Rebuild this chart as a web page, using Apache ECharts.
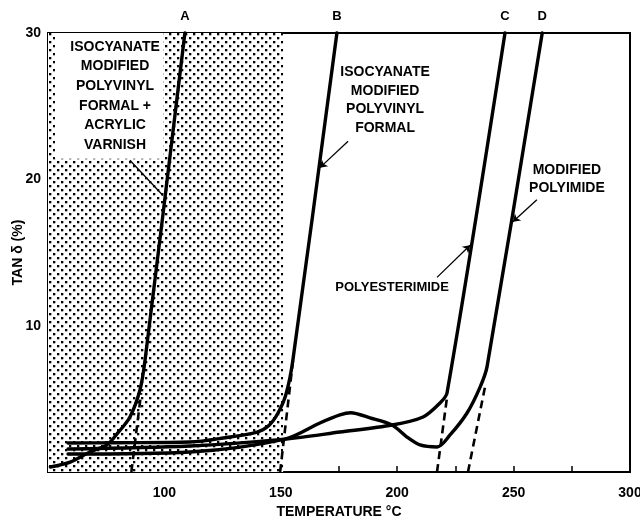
<!DOCTYPE html>
<html>
<head>
<meta charset="utf-8">
<script src="https://cdn.jsdelivr.net/npm/echarts@6/dist/echarts.min.js"></script>
<style>
html,body{margin:0;padding:0;background:#fff;}
#chart{width:640px;height:522px;}
</style>
</head>
<body>
<div id="chart"></div>
<script>
// ---- Data ----
const tempA = [51, 59.5, 68, 75.3, 80, 85.2, 89.5, 91.7, 108.8];
const tanA  = [0.34, 0.68, 1.37, 1.85, 2.67, 3.76, 5.6, 7.66, 30];

const tempB = [58.6, 80, 111, 125.2, 139.8, 145, 148.8, 152.2, 155.2, 174.1];
const tanB  = [1.98, 2.0, 2.05, 2.32, 2.73, 3.2, 4.03, 5.3, 7.66, 30];

const tempC = [58.6, 111, 151.8, 175.4, 197.8, 211.1, 218.4, 221.4, 246.3];
const tanC  = [1.57, 1.78, 2.25, 2.73, 3.21, 3.76, 4.72, 5.4, 30];

const tempD = [58.6, 111, 151.8, 166.8, 175.4, 180, 188.3, 197.8, 204.2, 209.8, 217.1, 222.7, 230, 235.6, 238.6, 262.3];
const tanD  = [1.23, 1.37, 2.25, 3.35, 3.9, 4.05, 3.7, 3.21, 2.39, 1.85, 1.71, 2.53, 4.03, 5.8, 7.2, 30];

// dashed tangent extrapolations to the temperature axis
const dashTempA = [85.8, 90.0];   const dashTanA = [0, 5.4];
const dashTempB = [149.7, 155.3]; const dashTanB = [0, 7.7];
const dashTempC = [217.1, 221.4]; const dashTanC = [0, 5.1];
const dashTempD = [230.4, 237.7]; const dashTanD = [0, 5.8];

// shaded (stippled) temperature band
const shadedBand = [50, 151];

const curveLetters = ['A', 'B', 'C', 'D'];
const xTickLabels = [100, 150, 200, 250, 300];
const yTickLabels = [10, 20, 30];

// ---- helpers ----
const zip = (xs, ys) => xs.map((x, i) => [x, ys[i]]);
const FONT = '"Liberation Sans", Arial, Helvetica, sans-serif';

function makeStipple() {
  const c = document.createElement('canvas');
  c.width = 8; c.height = 8;
  const g = c.getContext('2d');
  g.fillStyle = '#fff';
  g.fillRect(0, 0, 8, 8);
  g.fillStyle = '#000';
  g.fillRect(1, 1, 2.3, 2.3);
  g.fillRect(5, 5, 2.3, 2.3);
  return c;
}
const stipple = makeStipple();

const chart = echarts.init(document.getElementById('chart'), null, {renderer: 'canvas'});

function curve(name, xs, ys, letter) {
  const n = xs.length - 1;
  return {
    name: name, type: 'line', z: 5,
    data: zip(xs, ys),
    smooth: 0.3,
    showSymbol: false, symbol: 'none',
    lineStyle: {color: '#000', width: 3.4, cap: 'round', join: 'round'},
    clip: false,
    silent: true,
    markPoint: {
      symbol: 'circle', symbolSize: 0, silent: true,
      data: [{coord: [xs[n], ys[n]], value: letter}],
      label: {show: true, formatter: letter, offset: [0, -17], color: '#000',
              fontFamily: FONT, fontWeight: 'bold', fontSize: 13}
    }
  };
}
function dashed(xs, ys) {
  return {
    type: 'line', z: 4, data: zip(xs, ys), symbol: 'none', silent: true,
    lineStyle: {color: '#000', width: 2.6, type: [8, 5]}
  };
}
function note(text, x, y, size, lh) {
  return {
    coord: [x, y], value: 0,
    label: {show: true, formatter: text, color: '#000', fontFamily: FONT,
            fontWeight: 'bold', fontSize: size, lineHeight: lh, align: 'center',
            verticalAlign: 'middle', position: 'inside'}
  };
}
function arrow(x1, y1, x2, y2, head) {
  return [{coord: [x1, y1], symbol: 'none'}, {coord: [x2, y2], symbol: head ? 'arrow' : 'none'}];
}

const option = {
  animation: false,
  backgroundColor: '#fff',
  grid: {left: 48, right: 10, top: 33, bottom: 50, show: true,
         borderColor: '#000', borderWidth: 2, backgroundColor: 'transparent',
         outerBoundsMode: 'none'},
  xAxis: {
    type: 'value', min: 50, max: 300, interval: 25,
    name: 'TEMPERATURE °C', nameLocation: 'middle', nameGap: 31,
    nameTextStyle: {color: '#000', fontFamily: FONT, fontWeight: 'bold', fontSize: 14},
    axisLine: {show: true, lineStyle: {color: '#000', width: 2}},
    axisTick: {show: true, inside: true, length: 6, lineStyle: {color: '#000', width: 1.5}},
    splitLine: {show: false},
    axisLabel: {
      margin: 14, color: '#000', fontFamily: FONT, fontWeight: 'bold', fontSize: 14,
      formatter: v => xTickLabels.includes(v) ? String(v) : ''
    }
  },
  yAxis: {
    type: 'value', min: 0, max: 30, interval: 5,
    name: 'TAN δ (%)', nameLocation: 'middle', nameGap: 23, nameRotate: 90,
    nameMoveOverlap: false,
    nameTextStyle: {color: '#000', fontFamily: FONT, fontWeight: 'bold', fontSize: 14},
    axisLine: {show: true, lineStyle: {color: '#000', width: 2}},
    axisTick: {show: true, inside: true, length: 5, lineStyle: {color: '#000', width: 1.5}},
    splitLine: {show: false},
    axisLabel: {
      margin: 7, color: '#000', fontFamily: FONT, fontWeight: 'bold', fontSize: 14,
      formatter: v => yTickLabels.includes(v) ? String(v) : ''
    }
  },
  series: [
    { // stippled band
      type: 'line', data: [], z: 1, silent: true,
      markArea: {silent: true, itemStyle: {color: {image: stipple, repeat: 'repeat'}},
                 data: [[{xAxis: shadedBand[0], yAxis: 0}, {xAxis: shadedBand[1], yAxis: 30}]]}
    },
    { // white label box inside the band
      type: 'line', data: [], z: 2, silent: true,
      markArea: {silent: true, itemStyle: {color: '#fff'},
                 data: [[{xAxis: 53, yAxis: 21.4}, {xAxis: 99.5, yAxis: 30}]]}
    },
    curve('Isocyanate modified polyvinyl formal + acrylic varnish', tempA, tanA, curveLetters[0]),
    curve('Isocyanate modified polyvinyl formal', tempB, tanB, curveLetters[1]),
    curve('Polyesterimide', tempC, tanC, curveLetters[2]),
    curve('Modified polyimide', tempD, tanD, curveLetters[3]),
    dashed(dashTempA, dashTanA),
    dashed(dashTempB, dashTanB),
    dashed(dashTempC, dashTanC),
    dashed(dashTempD, dashTanD),
    { // annotations
      type: 'line', data: [], z: 6, silent: true,
      markPoint: {
        symbol: 'circle', symbolSize: 0, silent: true,
        data: [
          note('ISOCYANATE\nMODIFIED\nPOLYVINYL\nFORMAL +\nACRYLIC\nVARNISH', 78.8, 25.7, 14, 19.6),
          note('ISOCYANATE\nMODIFIED\nPOLYVINYL\nFORMAL', 194.8, 25.4, 14, 18.5),
          note('MODIFIED\nPOLYIMIDE', 272.9, 20.0, 14, 18.5),
          note('POLYESTERIMIDE', 197.8, 12.6, 13, 16)
        ]
      },
      markLine: {
        silent: true, symbolSize: 7,
        label: {show: false},
        lineStyle: {color: '#000', width: 1.3, type: 'solid'},
        data: [
          arrow(85.2, 21.3, 99.4, 18.9, false),
          arrow(178.9, 22.6, 166.8, 20.8, true),
          arrow(260.0, 18.6, 249.7, 17.1, true),
          arrow(217.1, 13.3, 231.3, 15.5, true)
        ]
      }
    }
  ]
};
chart.setOption(option);
</script>
</body>
</html>
